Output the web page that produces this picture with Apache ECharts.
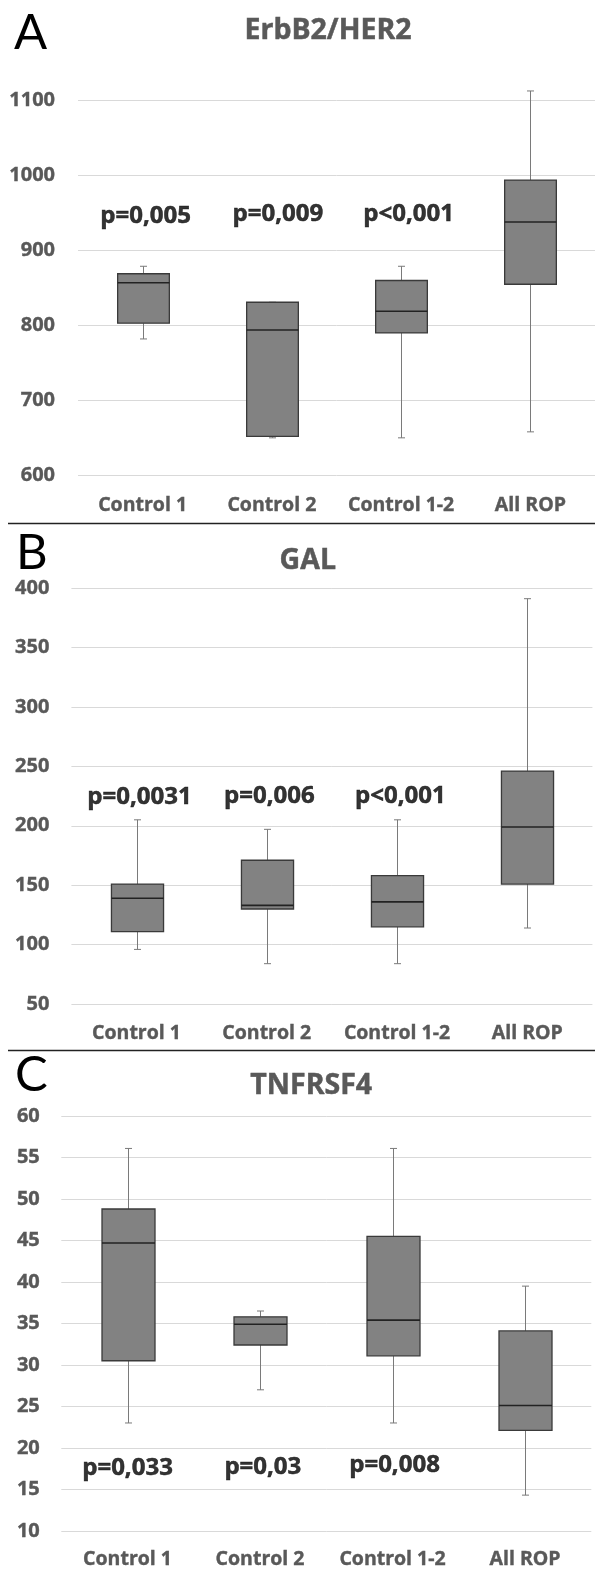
<!DOCTYPE html>
<html><head><meta charset="utf-8">
<script src="https://cdn.jsdelivr.net/npm/echarts@6/dist/echarts.min.js"></script>
<style>html,body{margin:0;padding:0;background:#fff}#c{width:595px;height:1570px}</style>
</head><body><div id="c"></div>
<script>
const categories = ['Control 1', 'Control 2', 'Control 1-2', 'All ROP'];
// box values: [min, Q1, median, Q3, max]
const erbb2Boxes = [[782, 803, 857, 869, 879], [650, 652, 794, 831, 831], [650, 790, 819, 860, 879], [658, 855, 938, 994, 1113]];
const galBoxes = [[96, 111, 139, 151, 205], [84, 130, 133, 171, 197], [84, 115, 136, 158, 205], [114, 151, 199, 246, 391]];
const tnfBoxes = [[23.0, 30.5, 44.7, 48.8, 56.1], [27.0, 32.4, 34.9, 35.8, 36.5], [23.0, 31.1, 35.4, 45.5, 56.1], [14.3, 22.1, 25.1, 34.1, 39.5]];
const erbb2P = ['p=0,005', 'p=0,009', 'p<0,001'];
const galP = ['p=0,0031', 'p=0,006', 'p<0,001'];
const tnfP = ['p=0,033', 'p=0,03', 'p=0,008'];
const erbb2PY = [946, 949, 949];
const galPY = [224, 224.5, 225];
const tnfPY = [17.6, 17.7, 17.9];
const panelTitles = ['ErbB2/HER2', 'GAL', 'TNFRSF4'];
const panelLetters = ['A', 'B', 'C'];
const yRanges = [[600, 1100, 100], [50, 400, 50], [10, 60, 5]];

const FONT = '"Open Sans"';
const W = 'bold';
const chart = echarts.init(document.getElementById('c'), null, {renderer: 'canvas'});

function renderBox(params, api) {
  const i = api.value(0);
  const band = api.size([1, 0])[0];
  const hw = band * 0.2;
  const cap = 3.5;
  const pMin = api.coord([i, api.value(1)]);
  const pQ1 = api.coord([i, api.value(2)]);
  const pMed = api.coord([i, api.value(3)]);
  const pQ3 = api.coord([i, api.value(4)]);
  const pMax = api.coord([i, api.value(5)]);
  const x = Math.round(pMed[0]) + 0.5;
  const ws = {stroke: '#7a7a7a', lineWidth: 1};
  return {type: 'group', children: [
    {type: 'line', shape: {x1: x, y1: pMax[1], x2: x, y2: pQ3[1]}, style: ws},
    {type: 'line', shape: {x1: x, y1: pQ1[1], x2: x, y2: pMin[1]}, style: ws},
    {type: 'line', shape: {x1: x - cap, y1: pMax[1], x2: x + cap, y2: pMax[1]}, style: ws},
    {type: 'line', shape: {x1: x - cap, y1: pMin[1], x2: x + cap, y2: pMin[1]}, style: ws},
    {type: 'rect', shape: {x: x - hw, y: pQ3[1], width: hw * 2, height: pQ1[1] - pQ3[1]}, style: {fill: '#828282', stroke: '#3a3a3a', lineWidth: 1.3}},
    {type: 'line', shape: {x1: x - hw, y1: pMed[1], x2: x + hw, y2: pMed[1]}, style: {stroke: '#222', lineWidth: 1.6}}
  ]};
}

const grids = [
  {left: 78, top: 100.7, width: 520, height: 374.6},
  {left: 71.4, top: 588, width: 521, height: 416.1},
  {left: 61.3, top: 1116.1, width: 530, height: 415.1}
];
const labelMargins = [[23, 20.5], [22, 19.5], [21.5, 19]];
const boxesAll = [erbb2Boxes, galBoxes, tnfBoxes];
const pAll = [erbb2P, galP, tnfP];
const pyAll = [erbb2PY, galPY, tnfPY];
const pOffsets = [[3, 6, 7.5], [3, 2.6, 3.3], [0, 2.8, 2]];

const xAxes = [], yAxes = [], series = [];
for (let g = 0; g < 3; g++) {
  xAxes.push({
    type: 'category', gridIndex: g, data: categories, boundaryGap: true,
    axisLine: {show: false}, axisTick: {show: false}, splitLine: {show: false},
    axisLabel: {color: '#595959', fontFamily: FONT, fontWeight: W, fontSize: 19.5, margin: labelMargins[g][1], interval: 0,
      textBorderColor: '#595959', textBorderWidth: 0.4}
  });
  yAxes.push({
    type: 'value', gridIndex: g, min: yRanges[g][0], max: yRanges[g][1], interval: yRanges[g][2],
    axisLine: {show: false}, axisTick: {show: false},
    splitLine: {lineStyle: {color: '#d9d9d9', width: 1}},
    axisLabel: {color: '#595959', fontFamily: FONT, fontWeight: W, fontSize: 20, margin: labelMargins[g][0],
      textBorderColor: '#595959', textBorderWidth: 0.4,
      formatter: (v) => String(v)}
  });
  series.push({
    type: 'custom', xAxisIndex: g, yAxisIndex: g,
    renderItem: renderBox,
    encode: {x: 0, y: [1, 2, 3, 4, 5]},
    data: boxesAll[g].map((b, i) => [i].concat(b)),
    z: 3
  });
  series.push({
    type: 'scatter', xAxisIndex: g, yAxisIndex: g,
    symbolSize: 1, itemStyle: {color: 'rgba(0,0,0,0)'},
    data: pAll[g].map((t, i) => ({value: [i, pyAll[g][i]], label: {offset: [pOffsets[g][i], 0]}})),
    label: {show: true, position: 'inside', color: '#000', fontFamily: FONT, fontWeight: W, fontSize: 24,
      textBorderColor: '#000', textBorderWidth: 0.5,
      formatter: (p) => pAll[g][p.dataIndex]},
    z: 4, silent: true
  });
}

const titlePos = [[328, 31.1], [307.8, 561.3], [311.2, 1085.7]];
const letterPos = [[14, 33], [16, 553.5], [15, 1075.5]];
const graphics = [];
for (let g = 0; g < 3; g++) {
  graphics.push({type: 'text', x: titlePos[g][0], y: titlePos[g][1],
    style: {text: panelTitles[g], fill: '#595959', font: W + ' 28.5px ' + FONT, textAlign: 'center', textVerticalAlign: 'middle',
      stroke: '#595959', lineWidth: 0.5}});
  graphics.push({type: 'text', x: letterPos[g][0], y: letterPos[g][1],
    style: {text: panelLetters[g], fill: '#000', font: '49px Lato', textAlign: 'left', textVerticalAlign: 'middle'}});
}
graphics.push({type: 'line', shape: {x1: 8, y1: 523.5, x2: 595, y2: 523.5}, style: {stroke: '#222', lineWidth: 1.5}});
graphics.push({type: 'line', shape: {x1: 8, y1: 1050.5, x2: 595, y2: 1050.5}, style: {stroke: '#222', lineWidth: 1.5}});

chart.setOption({
  animation: false,
  backgroundColor: '#fff',
  grid: grids,
  xAxis: xAxes,
  yAxis: yAxes,
  series: series,
  graphic: graphics
});
</script>
</body></html>
